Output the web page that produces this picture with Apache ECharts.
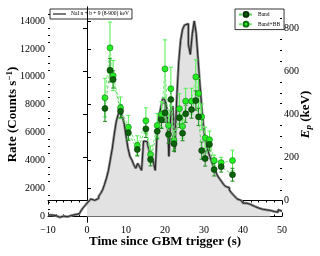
<!DOCTYPE html>
<html><head><meta charset="utf-8">
<script src="https://cdn.jsdelivr.net/npm/echarts@6/dist/echarts.min.js"></script>
<style>html,body{margin:0;padding:0;background:#fff}#c{width:320px;height:256px}</style>
</head><body><div id="c"></div>
<script>
// Light curve (bin start time, s) and rate (counts/s)
var lcTime = [-10,-9,-8,-7,-6,-5,-4,-3,-2,-1.5,-1,-0.5,0,0.5,1,1.5,2,2.5,3,3.5,4,4.5,5,5.5,6,6.5,7,7.5,8,8.5,9,9.5,10,10.5,11,11.5,12,12.5,13,13.5,14,14.5,15,15.5,16,16.5,17,17.5,18,18.5,19,19.5,20,20.5,21,21.5,22,22.5,23,23.5,24,24.5,25,25.5,26,26.5,27,27.5,28,28.5,29,29.5,30,30.5,31,31.5,32,32.5,33,33.5,34,34.5,35,35.5,36,36.5,37,37.5,38,38.5,39,39.5,40,41,42,43,44,45,46,47,48,49,49.5,50];
var lcRate = [100,60,-60,20,-20,60,130,180,280,420,620,780,950,1100,1250,1150,1280,1300,1450,1650,1900,2300,2750,3300,4100,4900,5900,6800,7300,7500,7200,6700,5800,4900,4300,4050,3700,3450,3800,3550,3300,5400,5350,5200,4650,4150,3900,3300,6100,7200,7900,8500,8300,7700,4300,7400,7900,4600,8400,11000,12600,13400,13700,13800,12300,11600,13100,14000,13100,11200,9300,7500,6100,5300,4700,4300,3900,3500,3200,2900,2700,2500,2300,2150,2050,1900,1700,1550,1400,1250,1150,1080,950,850,720,600,520,470,430,350,300,480,380,380];
var fillStart = 0, fillEnd = 47;

// Spectral peak energies (keV)
var specTime = [4.6,5.9,6.7,8.6,10.6,12.9,15.1,16.3,18.0,19.1,20.0,20.9,21.5,22.3,23.7,24.5,25.3,26.8,27.9,28.6,29.4,30.3,31.4,32.6,34.4,37.3];
var bandEp   = [428,606,563,415,315,237,333,191,322,375,408,307,470,264,385,313,403,423,465,389,232,195,261,144,157,120];
var bandErr  = [60,55,40,30,35,30,40,30,35,40,45,40,50,35,45,35,40,40,45,40,40,35,30,30,25,30];
var bbEp     = [478,710,581,431,341,256,371,214,349,400,612,349,520,280,427,345,462,462,575,498,389,291,283,186,176,186];
var bbErr    = [90,120,70,50,55,45,60,40,55,60,135,55,100,45,70,55,60,60,80,70,60,50,40,25,25,48];

var xTicks = [-10,0,10,20,30,40,50];
var rateTicks = [0,2000,4000,6000,8000,10000,12000,14000];
var rateMinor = [];
for (var v = 500; v < 15000; v += 500) if (v % 2000) rateMinor.push(v);
var epTicks = [0,200,400,600,800];
var epMinor = [];
for (var w = -50; w < 900; w += 50) if (w % 200) epMinor.push(w);

var SERIF = '"Liberation Serif","DejaVu Serif",serif';
var fmtNum = function (v) { return v < 0 ? '\u2212' + (-v) : String(v); };

var lcData = lcTime.map(function (t, i) { return [t, lcRate[i]]; });
var fillData = lcData.filter(function (d) { return d[0] >= fillStart && d[0] <= fillEnd; });
var bandData = specTime.map(function (t, i) { return [t, bandEp[i]]; });
var bbData = specTime.map(function (t, i) { return [t, bbEp[i]]; });

function errBars(name, ep, err, color) {
  return {
    type: 'custom', name: name + ' err', xAxisIndex: 0, yAxisIndex: 1, z: 4, silent: true,
    renderItem: function (params, api) {
      var p1 = api.coord([api.value(0), api.value(1)]);
      var p2 = api.coord([api.value(0), api.value(2)]);
      var c = 2;
      var st = { stroke: color, lineWidth: 1 };
      return { type: 'group', children: [
        { type: 'line', shape: { x1: p1[0], y1: p1[1], x2: p2[0], y2: p2[1] }, style: st },
        { type: 'line', shape: { x1: p1[0] - c, y1: p1[1], x2: p1[0] + c, y2: p1[1] }, style: st },
        { type: 'line', shape: { x1: p2[0] - c, y1: p2[1], x2: p2[0] + c, y2: p2[1] }, style: st }
      ]};
    },
    data: specTime.map(function (t, i) { return [t, ep[i] - err[i], ep[i] + err[i]]; })
  };
}

var axisLineBlack = { show: true, lineStyle: { color: '#000', width: 1 } };

var option = {
  animation: false,
  backgroundColor: '#fff',
  grid: { left: 48, right: 38, top: 7, bottom: 34, containLabel: false, outerBoundsMode: 'none' },
  legend: [
    { data: [{ name: 'NaI n + b + 9 (8-900) keV', icon: 'rect' }], left: 50, top: 9, orient: 'vertical',
      borderColor: '#000', borderWidth: 0.8, padding: [2, 3, 2, 3], itemWidth: 13, itemHeight: 1.2,
      textStyle: { fontFamily: SERIF, fontSize: 5.5, color: '#000' } },
    { data: ['Band', 'Band+BB'], left: 235, top: 9, orient: 'vertical', itemGap: 3,
      borderColor: '#000', borderWidth: 0.8, padding: [2, 4, 2, 3], itemWidth: 14, itemHeight: 6,
      textStyle: { fontFamily: SERIF, fontSize: 5.5, color: '#000' } }
  ],
  xAxis: [
    { type: 'value', min: -10, max: 50, interval: 10, position: 'bottom',
      axisLine: axisLineBlack, splitLine: { show: false },
      axisTick: { inside: true, length: 4, lineStyle: { color: '#000' } },
      minorTick: { show: true, splitNumber: 5, length: 2, lineStyle: { color: '#000' } },
      axisLabel: { fontFamily: SERIF, fontSize: 10, color: '#000', margin: 3, formatter: fmtNum },
      name: 'Time since GBM trigger (s)', nameLocation: 'middle', nameGap: 13, nameMoveOverlap: false,
      nameTextStyle: { fontFamily: SERIF, fontWeight: 'bold', fontSize: 13, color: '#000' } },
    { type: 'value', min: -10, max: 50, interval: 10, position: 'top',
      axisLine: axisLineBlack, splitLine: { show: false },
      axisTick: { inside: true, length: 4, lineStyle: { color: '#000' } },
      minorTick: { show: true, splitNumber: 5, length: 2, lineStyle: { color: '#000' } },
      axisLabel: { show: false } }
  ],
  yAxis: [
    { type: 'value', min: -400, max: 15000, position: 'left',
      axisLine: axisLineBlack, splitLine: { show: false },
      axisTick: { inside: true, length: 4, customValues: rateTicks, lineStyle: { color: '#000' } },
      axisLabel: { customValues: rateTicks, fontFamily: SERIF, fontSize: 10, color: '#000', margin: 3, formatter: fmtNum },
      name: 'Rate (Counts s{sup|\u22121})', nameLocation: 'middle', nameGap: 28, nameMoveOverlap: false,
      nameTextStyle: { fontFamily: SERIF, fontWeight: 'bold', fontSize: 13, color: '#000',
        rich: { sup: { fontFamily: SERIF, fontWeight: 'bold', fontSize: 9, verticalAlign: 'top', padding: [0, 0, 6, 0] } } } },
    { type: 'value', min: -100, max: 900, position: 'right',
      axisLine: axisLineBlack, splitLine: { show: false },
      axisTick: { inside: true, length: 4, customValues: epTicks, lineStyle: { color: '#000' } },
      axisLabel: { customValues: epTicks, fontFamily: SERIF, fontSize: 10, color: '#000', margin: 2, formatter: fmtNum },
      name: '{it|E}{sub|p} (keV)', nameLocation: 'middle', nameGap: 16, nameMoveOverlap: false,
      nameTextStyle: { fontFamily: SERIF, fontWeight: 'bold', fontSize: 13, color: '#000',
        rich: { it: { fontFamily: SERIF, fontStyle: 'italic', fontSize: 13 },
                sub: { fontFamily: SERIF, fontStyle: 'italic', fontSize: 9, padding: [6, 0, 0, 0] } } } },
    { type: 'value', min: -400, max: 15000, position: 'left', show: true,
      axisLine: { show: false }, splitLine: { show: false }, axisLabel: { show: false },
      axisTick: { inside: true, length: 2, customValues: rateMinor, lineStyle: { color: '#000' } } },
    { type: 'value', min: -100, max: 900, position: 'right', show: true,
      axisLine: { show: false }, splitLine: { show: false }, axisLabel: { show: false },
      axisTick: { inside: true, length: 2, customValues: epMinor, lineStyle: { color: '#000' } } }
  ],
  series: [
    { type: 'line', name: 'fill', xAxisIndex: 0, yAxisIndex: 0, step: 'end', data: fillData,
      symbol: 'none', lineStyle: { width: 0 }, areaStyle: { color: '#e2e2e2', opacity: 1 }, z: 1, silent: true },
    { type: 'line', name: 'halo', xAxisIndex: 0, yAxisIndex: 0, step: 'end', data: lcData,
      symbol: 'none', lineStyle: { width: 2.6, color: '#8a8a8a' }, z: 2, silent: true },
    { type: 'line', name: 'NaI n + b + 9 (8-900) keV', xAxisIndex: 0, yAxisIndex: 0, step: 'end', data: lcData,
      symbol: 'none', lineStyle: { width: 1, color: '#222' }, itemStyle: { color: '#222' }, z: 3 },
    errBars('Band+BB', bbEp, bbErr, '#4cf04c'),
    errBars('Band', bandEp, bandErr, '#1d8a1d'),
    { type: 'line', name: 'Band+BB', xAxisIndex: 0, yAxisIndex: 1, data: bbData,
      symbol: 'circle', symbolSize: 6,
      lineStyle: { width: 1, type: [3, 2], color: '#7ef07e' },
      itemStyle: { color: '#22ee22', borderColor: '#127012', borderWidth: 0.6 }, z: 6 },
    { type: 'line', name: 'Band', xAxisIndex: 0, yAxisIndex: 1, data: bandData,
      symbol: 'circle', symbolSize: 6,
      lineStyle: { width: 1, type: [3, 2], color: '#5fd35f' },
      itemStyle: { color: '#0b640b', borderColor: '#053005', borderWidth: 0.6 }, z: 7 }
  ]
};
var chart = echarts.init(document.getElementById('c'), null, { renderer: 'canvas' });
chart.setOption(option);
</script></body></html>
